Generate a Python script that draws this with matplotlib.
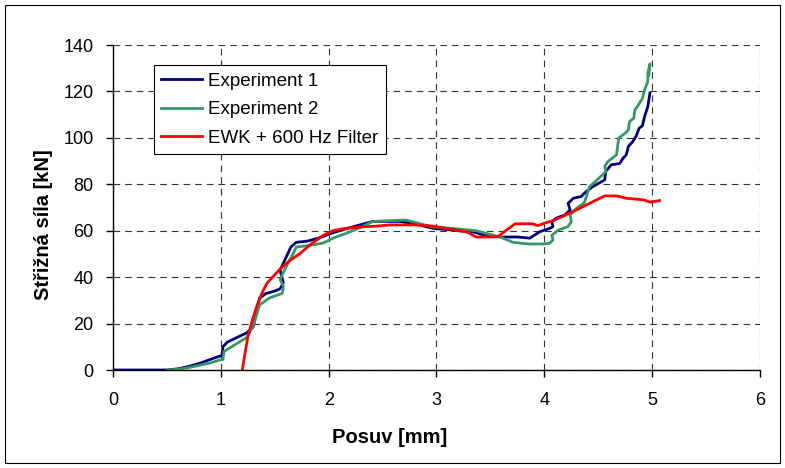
import matplotlib
matplotlib.use("Agg")
import matplotlib.pyplot as plt
from matplotlib.patches import Rectangle

plt.rcParams['font.family'] = ['Liberation Sans', 'DejaVu Sans']
plt.rcParams['font.size'] = 13

# Experiment 1 (navy)
exp1_x = [0, 0.5, 0.6, 0.7, 0.81, 0.9, 0.99, 1.01, 1.02, 1.06, 1.15, 1.24, 1.30, 1.33, 1.36,
          1.42, 1.50, 1.55, 1.58, 1.55, 1.60, 1.65, 1.70, 1.80, 1.92, 2.0, 2.10, 2.25, 2.41,
          2.55, 2.66, 2.8, 2.97, 3.1, 3.2, 3.34, 3.45, 3.59, 3.75, 3.865, 3.96, 4.05, 4.08,
          4.07, 4.11, 4.19, 4.24, 4.22, 4.27, 4.34, 4.39, 4.45, 4.56, 4.57, 4.62, 4.70, 4.73,
          4.76, 4.78, 4.82, 4.85, 4.88, 4.91, 4.93, 4.96, 4.98]
exp1_y = [0, 0, 0.5, 1.5, 3, 4.5, 6, 6, 10, 12, 14, 16, 18.5, 25, 31,
          33, 34, 35, 37.5, 43, 48, 53, 55, 55.5, 57, 58.5, 60, 62, 64,
          64, 64, 63, 61, 60.5, 60, 59.5, 58, 57.3, 57.3, 56.8, 59.6, 61, 61.8,
          63.9, 65.4, 66.8, 69, 71.8, 74, 74.7, 76.9, 79, 81.9, 85.5, 88.4, 89, 91.2,
          92.7, 96.3, 98.4, 100.6, 104.2, 105.2, 109.2, 113.5, 119.3]

# Experiment 2 (green)
exp2_x = [0.50, 0.6, 0.7, 0.8, 0.9, 0.99, 1.02, 1.03, 1.1, 1.24, 1.30, 1.36, 1.45, 1.57,
          1.58, 1.55, 1.60, 1.67, 1.70, 1.8, 1.95, 2.05, 2.17, 2.3, 2.41, 2.55, 2.72, 2.85,
          2.97, 3.15, 3.37, 3.45, 3.59, 3.71, 3.85, 3.99, 4.05, 4.08, 4.07, 4.13, 4.22, 4.25,
          4.24, 4.30, 4.37, 4.39, 4.42, 4.47, 4.56, 4.575, 4.56, 4.59, 4.67, 4.68, 4.69, 4.75,
          4.78, 4.79, 4.83, 4.84, 4.87, 4.91, 4.93, 4.96, 4.96, 4.98, 4.97]
exp2_y = [0, 0.3, 1, 2, 3, 4.3, 4.5, 8, 10, 14, 19, 28, 31, 33,
          36, 39, 44, 50, 53, 53.5, 54.7, 57, 59, 61.5, 64, 64.3, 64.6, 63,
          61.6, 61, 60, 59, 57.3, 55, 54.3, 54.3, 54.6, 56, 58, 60.3, 61.8, 63.9,
          67, 69.7, 72, 74.7, 79, 81, 85, 85.5, 87.6, 89.8, 92.7, 96.3, 99.9, 102,
          103.4, 107, 108.5, 112, 114, 117, 120.7, 124.3, 127.9, 131.9, 127]

# EWK + 600 Hz Filter (red)
ewk_x = [1.20, 1.22, 1.25, 1.29, 1.33, 1.38, 1.43, 1.50, 1.57, 1.65, 1.73, 1.83, 1.95, 2.04,
         2.15, 2.29, 2.45, 2.57, 2.8, 2.97, 3.15, 3.28, 3.37, 3.5, 3.57, 3.65, 3.73, 3.89,
         3.94, 4.02, 4.10, 4.20, 4.30, 4.42, 4.56, 4.67, 4.76, 4.92, 4.98, 5.07]
ewk_y = [0, 6, 14, 21, 27, 33, 37.5, 41, 44.5, 47.5, 50, 54, 58, 60,
         61, 61.6, 62, 62.5, 62.5, 62, 60.5, 59.5, 57.3, 57.3, 57.5, 60.3, 63, 63,
         62.2, 63.5, 64.7, 66.8, 69, 71.8, 75, 75, 74, 73.3, 72.3, 73]

fig = plt.figure(figsize=(7.85, 4.68), dpi=100)
ax = fig.add_axes([0.1439, 0.2094, 0.8242, 0.6944])

ax.plot(exp1_x, exp1_y, color='#000080', lw=2, label='Experiment 1')
ax.plot(exp2_x, exp2_y, color='#339966', lw=2, label='Experiment 2')
ax.plot(ewk_x, ewk_y, color='#FF0000', lw=2, label='EWK + 600 Hz Filter')

ax.set_xlim(0, 6)
ax.set_ylim(0, 140)
ax.set_xticks(range(0, 7))
ax.set_yticks(range(0, 141, 20))
ax.grid(True, color='#333333', lw=0.8, linestyle=(0, (6, 4.5)))
ax.set_axisbelow(True)
for s in ['top', 'right']:
    ax.spines[s].set_visible(False)
for s in ['left', 'bottom']:
    ax.spines[s].set_linewidth(1.0)
ax.tick_params(direction='out', length=5, width=1, labelsize=13)
ax.tick_params(axis='x', pad=11)
ax.tick_params(axis='y', pad=9)

# axis titles sit off-centre, as in the original sheet
ax.set_xlabel('Posuv [mm]', fontweight='bold', fontsize=14.5, va='center')
ax.xaxis.set_label_coords(0.428, -0.209)
ax.set_ylabel('Střižná síla [kN]', fontweight='bold', fontsize=14.5, va='center')
ax.yaxis.set_label_coords(-0.107, 0.446)

leg = ax.legend(loc='upper left', bbox_to_anchor=(0.063, 0.938), borderaxespad=0,
                fancybox=False, framealpha=1, edgecolor='black', handlelength=2.2,
                handletextpad=0.3, labelspacing=0.6, borderpad=0.4, fontsize=13.5)
leg.get_frame().set_linewidth(0.8)

fig.patches.append(Rectangle((5 / 785, 5 / 468), 775 / 785, 458 / 468, fill=False,
                             edgecolor='black', lw=0.8, transform=fig.transFigure))

fig.savefig('out.png', dpi=100)
